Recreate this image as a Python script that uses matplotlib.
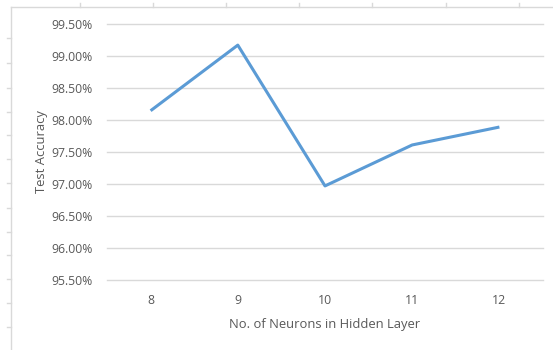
import numpy as np
import matplotlib.pyplot as plt
from matplotlib.lines import Line2D
from matplotlib.ticker import FuncFormatter

neurons = [8, 9, 10, 11, 12]
accuracy = [98.145, 99.17, 96.97, 97.61, 97.89]
y_ticks = [95.5, 96.0, 96.5, 97.0, 97.5, 98.0, 98.5, 99.0, 99.5]

W, H = 553, 350
fig = plt.figure(figsize=(W / 100, H / 100), dpi=100)
fig.patch.set_facecolor('white')

# plot area in pixel terms of the reference
ax = fig.add_axes([107 / W, 1 - 280 / H, (543 - 107) / W, (280 - 24) / H])
ax.plot(neurons, accuracy, color='#5B9BD5', linewidth=2.2, solid_capstyle='butt', zorder=3)

ax.set_xlim(7.5, 12.5)
ax.set_ylim(95.5, 99.5)
ax.set_yticks(y_ticks)
ax.set_xticks(neurons)
ax.yaxis.set_major_formatter(FuncFormatter(lambda v, p: '%.2f%%' % v))
ax.grid(axis='y', color='#d9d9d9', linewidth=1.0)
for gl in ax.get_ygridlines():
    gl.set_clip_on(False)
ax.set_axisbelow(True)
for s in ax.spines.values():
    s.set_visible(False)
ax.tick_params(length=0, labelsize=8.8, labelcolor='#595959')
ax.tick_params(axis='y', pad=10)
ax.tick_params(axis='x', pad=10)
for lab in ax.get_xticklabels() + ax.get_yticklabels():
    lab.set_family('Open Sans')

ax.set_xlabel('No. of Neurons in Hidden Layer', fontsize=9.4, color='#595959',
              family='Open Sans', labelpad=8)
ax.set_ylabel('Test Accuracy', fontsize=9.4, color='#595959', family='Open Sans', labelpad=3)

# light sheet border lines around the chart
def px_line(xs, ys):
    fig.add_artist(Line2D([x / W for x in xs], [1 - y / H for y in ys],
                          color='#d9d9d9', linewidth=1.0, transform=fig.transFigure))

px_line([11, 553], [7, 7])
px_line([11, 11], [7, 350])
for x in [80, 153, 226, 299, 372, 446, 519]:
    px_line([x, x], [3, 7])
for y in [38, 63, 88, 112, 135, 159, 183, 208, 232, 255, 279, 303, 327]:
    px_line([7, 11], [y, y])

fig.savefig('out.png', dpi=100)
